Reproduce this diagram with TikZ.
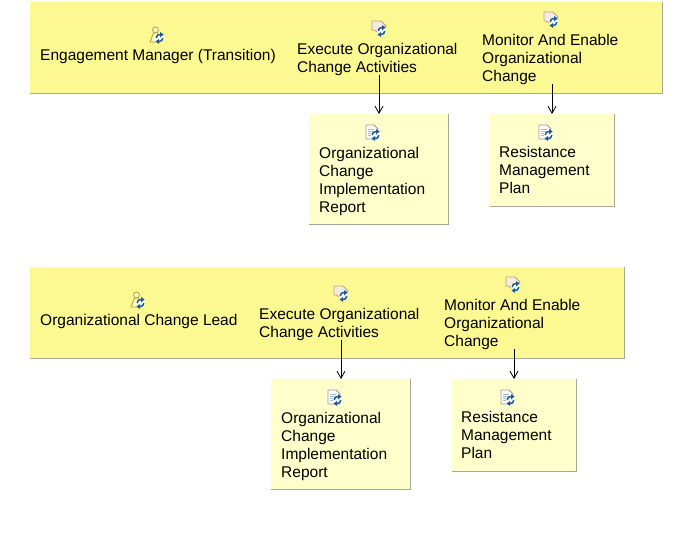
\documentclass[tikz,border=0pt]{standalone}
\usepackage{fontspec}
\setmainfont{Liberation Sans}
\usepackage{tikz}
\usetikzlibrary{calc,arrows.meta}
\definecolor{bandyellow}{HTML}{FDF992}
\definecolor{boxyellow}{HTML}{FFFFCB}
\definecolor{edgegray}{HTML}{A8A898}
\definecolor{syncblue}{HTML}{1C5A96}
\definecolor{roletan}{HTML}{B0A040}
\definecolor{pagetan}{HTML}{C8A070}
\tikzset{
    band/.style={fill=bandyellow, anchor=north west, inner sep=0pt},
    workproduct/.style={fill=boxyellow, anchor=north west, inner sep=0pt},
    label/.style={anchor=west, align=left, inner sep=0pt, text=black,
            font=\fontsize{15.5}{18}\selectfont},
    edge/.style={edgegray, line width=1pt},
    flow/.style={-{Straight Barb[length=7pt, width=8pt]}, black, line width=0.8pt},
    pics/sync/.style={code={
                % blue badge shared by the three icons
                \fill [white] (2.5, 3) circle (4.5);
                \draw [syncblue, line width=1.5pt] (-0.8, 3) .. controls (-0.8, 0.5) and (1, -0.5) .. (3, -0.5);
                \draw [syncblue, line width=1.5pt] (5.8, 3) .. controls (5.8, 5.5) and (4, 6.5) .. (2, 6.5);
                \fill [syncblue] (6.5, -0.5) -- (3, -3) -- (3, 2.5) -- cycle;
                \fill [syncblue] (-1.5, 6.5) -- (2, 4) -- (2, 9) -- cycle;
            }},
    pics/roleicon/.style={code={
                \draw [roletan, fill=bandyellow!60!white, line width=0.8pt] (-1.5, -5) circle (3);
                \draw [roletan, fill=bandyellow!60!white, line width=0.8pt] (-7, 7) -- (-3.5, -2) -- (0.5, -2) -- (2, 7) -- cycle;
                \pic at (0, 0) {sync};
            }},
    pics/taskicon/.style={code={
                \draw [pagetan, fill=white!80!pagetan, line width=0.8pt] (-7, -7) -- (2, -7) -- (7, -2) -- (0, 5) -- (-5, 2) -- (-7, 2) -- cycle;
                \pic at (0, 0) {sync};
            }},
    pics/artifacticon/.style={code={
                \draw [gray!80, fill=white, line width=0.8pt] (-7, -7) -- (1, -7) -- (5, -3) -- (5, 7) -- (-7, 7) -- cycle;
                \draw [syncblue!40, line width=0.6pt] (-5, -3) -- (1, -3) (-5, -1) -- (1, -1) (-5, 1) -- (-2, 1) (-5, 3) -- (-2, 3);
                \pic at (0, 0) {sync};
            }}
}
\begin{document}
\begin{tikzpicture}[x=1pt, y=-1pt]
    \useasboundingbox (0, 0) rectangle (684, 548);
    % first role
    \node (bandA) [band, minimum width=632.5pt, minimum height=91pt] at (30, 2) {};
    \draw [edge] (bandA.south west) -- (bandA.south east) -- (bandA.north east);
    \pic at (157, 35) {roleicon};
    \node (roleA) [label] at (40, 56.5) {Engagement Manager (Transition)};
    \pic at (379, 28) {taskicon};
    \node (executeA) [label] at (297, 59) {Execute Organizational\\Change Activities};
    \pic at (551, 19) {taskicon};
    \node (monitorA) [label] at (482, 59) {Monitor And Enable\\Organizational\\Change};
    \node (reportA) [workproduct, minimum width=139.5pt, minimum height=110pt] at (309, 114) {};
    \draw [edge] (reportA.south west) -- (reportA.south east) -- (reportA.north east);
    \pic at (373, 132) {artifacticon};
    \node (reportTextA) [label] at (319, 181) {Organizational\\Change\\Implementation\\Report};
    \node (planA) [workproduct, minimum width=124.5pt, minimum height=92.5pt] at (490, 114) {};
    \draw [edge] (planA.south west) -- (planA.south east) -- (planA.north east);
    \pic at (546, 132) {artifacticon};
    \node (planTextA) [label] at (499, 170) {Resistance\\Management\\Plan};
    \coordinate (startExecuteA) at (379, 75);
    \coordinate (startMonitorA) at (552, 84);
    \draw [flow] (startExecuteA) -- (startExecuteA |- reportA.north);
    \draw [flow] (startMonitorA) -- (startMonitorA |- planA.north);
    % second role
    \node (bandB) [band, minimum width=594.5pt, minimum height=91pt] at (30, 267) {};
    \draw [edge] (bandB.south west) -- (bandB.south east) -- (bandB.north east);
    \pic at (138, 300) {roleicon};
    \node (roleB) [label] at (40, 321.5) {Organizational Change Lead};
    \pic at (341, 293) {taskicon};
    \node (executeB) [label] at (259, 324) {Execute Organizational\\Change Activities};
    \pic at (513, 284) {taskicon};
    \node (monitorB) [label] at (444, 324) {Monitor And Enable\\Organizational\\Change};
    \node (reportB) [workproduct, minimum width=139.5pt, minimum height=110pt] at (271, 379) {};
    \draw [edge] (reportB.south west) -- (reportB.south east) -- (reportB.north east);
    \pic at (335, 397) {artifacticon};
    \node (reportTextB) [label] at (281, 446) {Organizational\\Change\\Implementation\\Report};
    \node (planB) [workproduct, minimum width=124.5pt, minimum height=92.5pt] at (452, 379) {};
    \draw [edge] (planB.south west) -- (planB.south east) -- (planB.north east);
    \pic at (508, 397) {artifacticon};
    \node (planTextB) [label] at (461, 435) {Resistance\\Management\\Plan};
    \coordinate (startExecuteB) at (341, 340);
    \coordinate (startMonitorB) at (514, 349);
    \draw [flow] (startExecuteB) -- (startExecuteB |- reportB.north);
    \draw [flow] (startMonitorB) -- (startMonitorB |- planB.north);
\end{tikzpicture}
\end{document}
